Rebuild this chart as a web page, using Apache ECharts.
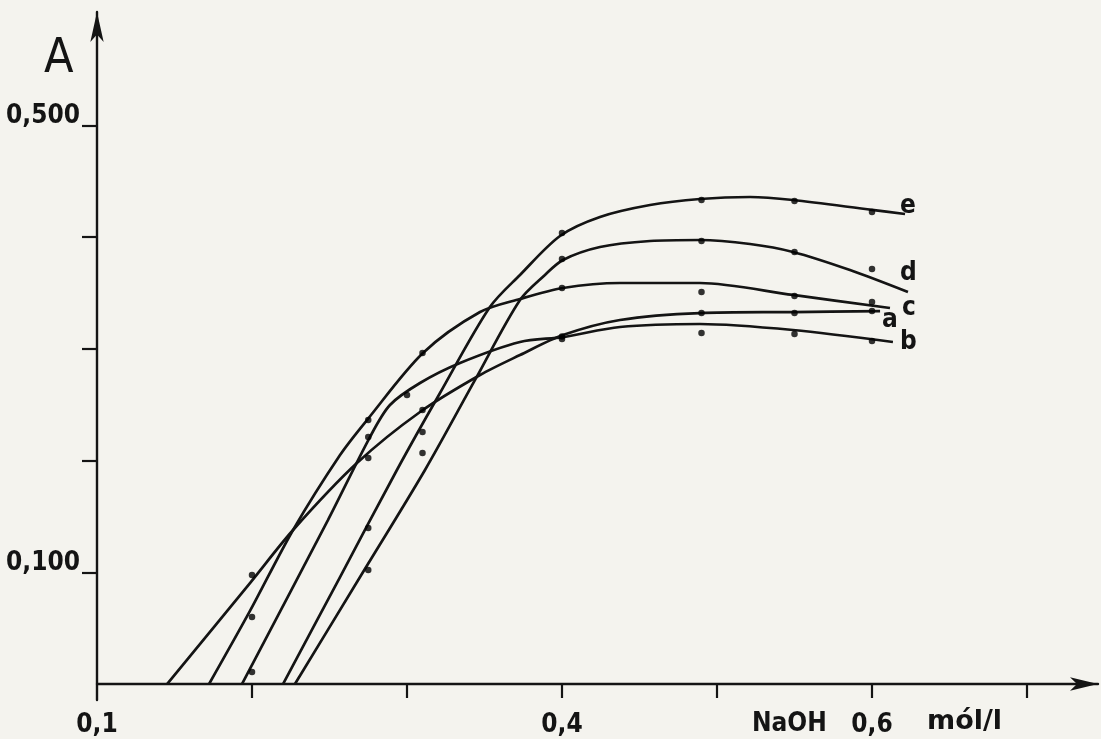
<!DOCTYPE html>
<html>
<head>
<meta charset="utf-8">
<script src="https://cdn.jsdelivr.net/npm/echarts@6/dist/echarts.min.js"></script>
<style>
  html, body { margin: 0; padding: 0; background: #f4f3ee; }
  #chart { width: 1101px; height: 739px; }
</style>
</head>
<body>
<div id="chart"></div>
<script>
// ---- Data (NaOH concentration in mol/l, absorbance A) ----
const xTickValues = [0.2, 0.3, 0.4, 0.5, 0.6, 0.7];
const xLabelValues = [0.1, 0.4, 0.6];
const yTickValues = [0.1, 0.2, 0.3, 0.4, 0.5];
const yLabelValues = [0.1, 0.5];

// hand-drawn curves (traced)
const curveA = [[0.1452,0],[0.1987,0.0904],[0.2265,0.1379],[0.2677,0.1978],[0.3084,0.2435],[0.3471,0.2766],[0.3729,0.2945],[0.4006,0.3124],[0.4374,0.3259],[0.4890,0.3321],[0.5490,0.3330],[0.6052,0.3339]];
const curveB = [[0.1935,0],[0.2490,0.1468],[0.2761,0.2211],[0.2890,0.2498],[0.3084,0.2695],[0.3342,0.2874],[0.3729,0.3062],[0.4006,0.3106],[0.4374,0.3196],[0.4890,0.3223],[0.5490,0.3169],[0.6135,0.3062]];
const curveC = [[0.1723,0],[0.1987,0.0654],[0.2265,0.1379],[0.2568,0.2050],[0.2742,0.2363],[0.3103,0.2963],[0.3471,0.3330],[0.3729,0.3447],[0.4006,0.3545],[0.4374,0.3590],[0.4890,0.3590],[0.5490,0.3483],[0.6116,0.3366]];
const curveD = [[0.2277,0],[0.2697,0.0958],[0.3116,0.1916],[0.3439,0.2722],[0.3729,0.3438],[0.3890,0.3662],[0.4006,0.3796],[0.4245,0.3912],[0.4568,0.3966],[0.4890,0.3975],[0.5213,0.3939],[0.5490,0.3868],[0.5858,0.3706],[0.6232,0.3509]];
const curveE = [[0.2200,0],[0.2568,0.0958],[0.2935,0.1916],[0.3213,0.2605],[0.3535,0.3375],[0.3729,0.3662],[0.3987,0.4011],[0.4245,0.4181],[0.4568,0.4288],[0.4890,0.4342],[0.5213,0.4360],[0.5490,0.4333],[0.6000,0.4244],[0.6213,0.4208]];

// measured points
const pointsA = [[0.2,0.0976],[0.275,0.2023],[0.31,0.2453],[0.4,0.3110],[0.49,0.3321],[0.55,0.3321],[0.6,0.3339]];
const pointsB = [[0.2,0.0107],[0.275,0.2211],[0.30,0.2587],[0.4,0.3089],[0.49,0.3142],[0.55,0.3133],[0.6,0.3071]];
const pointsC = [[0.2,0.0600],[0.275,0.2363],[0.31,0.2963],[0.4,0.3545],[0.49,0.3509],[0.55,0.3474],[0.6,0.3420]];
const pointsD = [[0.275,0.1021],[0.31,0.2068],[0.4,0.3805],[0.49,0.3966],[0.55,0.3868],[0.6,0.3715]];
const pointsE = [[0.275,0.1397],[0.31,0.2256],[0.4,0.4038],[0.49,0.4333],[0.55,0.4324],[0.6,0.4226]];

const ink = '#141414';
const FONT = 'DejaVu Sans Condensed';

function curve(name, data, offset) {
  return {
    name: name, type: 'line', data: data, smooth: 0.3,
    showSymbol: false, symbol: 'none', silent: true, animation: false,
    lineStyle: { color: ink, width: 2.7 },
    endLabel: {
      show: true, formatter: function () { return name; }, distance: 0, offset: offset,
      align: 'left', verticalAlign: 'middle',
      fontFamily: FONT, fontWeight: 'bold', fontSize: 26, color: ink
    },
    z: 3
  };
}
function dots(data) {
  return { type: 'scatter', data: data, symbol: 'circle', symbolSize: 6.5, silent: true, animation: false,
    itemStyle: { color: '#000' }, z: 4 };
}

const chart = echarts.init(document.getElementById('chart'), null, { renderer: 'canvas' });
chart.setOption({
  backgroundColor: '#f4f3ee',
  animation: false,
  grid: { left: 97, right: 3, top: 12, bottom: 39, containLabel: false, outerBoundsMode: 'none' },
  xAxis: {
    type: 'value', min: 0.1, max: 0.7458, interval: 0.1,
    axisLine: { onZero: true, lineStyle: { color: ink, width: 2.4 }, symbol: ['none', 'arrow'], symbolSize: [10, 28] },
    axisTick: { show: true, length: 14, lineStyle: { color: ink, width: 2.2 }, customValues: xTickValues },
    axisLabel: { customValues: xLabelValues, margin: 12, color: ink, fontFamily: FONT, fontWeight: 'bold', fontSize: 26,
      formatter: function (v) { return v.toFixed(1).replace('.', ','); } },
    splitLine: { show: false }
  },
  yAxis: {
    type: 'value', min: -0.0143, max: 0.6016,
    axisLine: { show: true, lineStyle: { color: ink, width: 2.4 }, symbol: ['none', 'arrow'], symbolSize: [10, 30] },
    axisTick: { show: true, length: 15, lineStyle: { color: ink, width: 2.2 }, customValues: yTickValues },
    axisLabel: { customValues: yLabelValues, margin: 17, verticalAlign: 'bottom', lineHeight: 18, color: ink, fontFamily: FONT, fontWeight: 'bold', fontSize: 26,
      formatter: function (v) { return v.toFixed(3).replace('.', ','); } },
    splitLine: { show: false }
  },
  graphic: [
    { type: 'text', left: 44, top: 36, style: { text: 'A', fontFamily: FONT, fontSize: 48, fill: ink } },
    { type: 'text', left: 752, top: 711, style: { text: 'NaOH', fontFamily: FONT, fontWeight: 'bold', fontSize: 26, fill: ink } },
    { type: 'text', left: 927, top: 708, style: { text: 'mól/l', fontFamily: 'DejaVu Sans', fontWeight: 'bold', fontSize: 27, fill: ink } }
  ],
  series: [
    curve('e', curveE, [-5, -8]),
    curve('d', curveD, [-8, -19]),
    curve('c', curveC, [12, 0]),
    curve('a', curveA, [2, 9]),
    curve('b', curveB, [7, 0]),
    dots(pointsA), dots(pointsB), dots(pointsC), dots(pointsD), dots(pointsE)
  ]
});
</script>
</body>
</html>
